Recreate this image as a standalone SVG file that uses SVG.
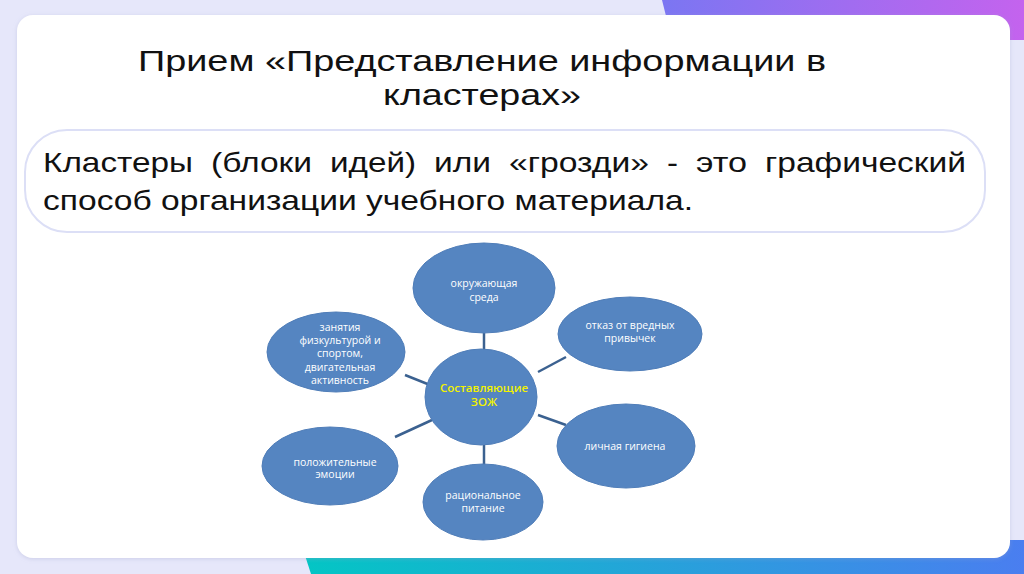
<svg xmlns="http://www.w3.org/2000/svg" width="1024" height="574" viewBox="0 0 1024 574">
<defs>
<linearGradient id="gPurple" x1="0" y1="0" x2="1" y2="0">
<stop offset="0" stop-color="#7b76f2"/>
<stop offset="1" stop-color="#c463ee"/>
</linearGradient>
<linearGradient id="gTeal" x1="0" y1="0" x2="1" y2="0">
<stop offset="0" stop-color="#03c6c4"/>
<stop offset="1" stop-color="#4a7ef0"/>
</linearGradient>
<filter id="shadow" x="-5%" y="-5%" width="110%" height="110%">
<feDropShadow dx="0" dy="1" stdDeviation="2" flood-color="#9aa0c8" flood-opacity="0.35"/>
</filter>
</defs>
<style>
.title{font-family:"Liberation Sans",Arial,sans-serif;font-size:29px;fill:#111;text-anchor:middle}
.body{font-family:"Liberation Sans",Arial,sans-serif;font-size:28px;fill:#111}
.node{fill:#5585c1;stroke:#4f7db8;stroke-width:1}
.lbl{font-family:"Open Sans","Liberation Sans",sans-serif;font-size:10.5px;fill:#ffffff;text-anchor:middle}
.ctr{font-family:"Open Sans","Liberation Sans",sans-serif;font-size:11.5px;font-weight:600;fill:#f2f200;text-anchor:middle}
.conn line{stroke:#3b6190;stroke-width:2.5}
</style>
<rect x="0" y="0" width="1024" height="574" fill="#e6e7fa"/>
<polygon points="662,0 1024,0 1024,40 672,40" fill="url(#gPurple)"/>
<polygon points="300,540 1024,540 1024,574 311,574" fill="url(#gTeal)"/>
<rect x="17" y="15" width="993" height="543" rx="16" fill="#ffffff" filter="url(#shadow)"/>
<text class="title" x="482" y="71" textLength="688" lengthAdjust="spacingAndGlyphs">Прием «Представление информации в</text>
<text class="title" x="482" y="105" textLength="198" lengthAdjust="spacingAndGlyphs">кластерах»</text>
<rect x="25" y="130" width="960" height="102" rx="42" fill="#ffffff" stroke="#dcdff6" stroke-width="2"/>
<g class="body">
<text x="43" y="172" textLength="150" lengthAdjust="spacingAndGlyphs">Кластеры</text>
<text x="211" y="172" textLength="101" lengthAdjust="spacingAndGlyphs">(блоки</text>
<text x="330" y="172" textLength="86" lengthAdjust="spacingAndGlyphs">идей)</text>
<text x="434" y="172" textLength="57" lengthAdjust="spacingAndGlyphs">или</text>
<text x="509" y="172" textLength="140" lengthAdjust="spacingAndGlyphs">«грозди»</text>
<text x="667" y="172" textLength="11" lengthAdjust="spacingAndGlyphs">-</text>
<text x="696" y="172" textLength="51" lengthAdjust="spacingAndGlyphs">это</text>
<text x="765" y="172" textLength="201" lengthAdjust="spacingAndGlyphs">графический</text>
<text x="43" y="210" textLength="650" lengthAdjust="spacingAndGlyphs">способ организации учебного материала.</text>
</g>
<g id="connectors" class="conn">
<line x1="484" y1="333" x2="484" y2="350"/>
<line x1="538" y1="372" x2="566" y2="357"/>
<line x1="405" y1="375" x2="430" y2="385"/>
<line x1="538" y1="415" x2="566" y2="425"/>
<line x1="395" y1="437" x2="432" y2="420"/>
<line x1="484" y1="445" x2="484" y2="465"/>
</g>
<g id="n-env">
<ellipse class="node" cx="484" cy="288" rx="71" ry="45"/>
<text class="lbl" x="484" y="287">окружающая</text>
<text class="lbl" x="484" y="301">среда</text>
</g>
<g id="n-habits">
<ellipse class="node" cx="630" cy="334" rx="72" ry="37"/>
<text class="lbl" x="630" y="329">отказ от вредных</text>
<text class="lbl" x="630" y="342">привычек</text>
</g>
<g id="n-sport">
<ellipse class="node" cx="336" cy="352" rx="69" ry="40"/>
<text class="lbl" x="340" y="331">занятия</text>
<text class="lbl" x="340" y="344">физкультурой и</text>
<text class="lbl" x="340" y="357">спортом,</text>
<text class="lbl" x="340" y="371">двигательная</text>
<text class="lbl" x="340" y="384">активность</text>
</g>
<g id="n-center">
<ellipse class="node" cx="481" cy="397" rx="56" ry="48"/>
<text class="ctr" x="484" y="392">Составляющие</text>
<text class="ctr" x="484" y="406">ЗОЖ</text>
</g>
<g id="n-hygiene">
<ellipse class="node" cx="626" cy="446" rx="69" ry="42"/>
<text class="lbl" x="625" y="450">личная гигиена</text>
</g>
<g id="n-emotions">
<ellipse class="node" cx="330" cy="466" rx="68" ry="39"/>
<text class="lbl" x="335" y="466">положительные</text>
<text class="lbl" x="335" y="478">эмоции</text>
</g>
<g id="n-food">
<ellipse class="node" cx="483" cy="502" rx="60" ry="38"/>
<text class="lbl" x="483" y="499">рациональное</text>
<text class="lbl" x="483" y="512">питание</text>
</g>
</svg>
